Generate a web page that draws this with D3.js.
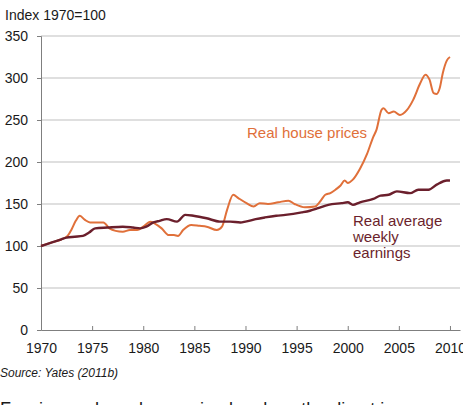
<!DOCTYPE html>
<html>
<head>
<meta charset="utf-8">
<script src="https://cdn.jsdelivr.net/npm/d3@7"></script>
<style>
  body { margin: 0; background: #fff; }
  svg { display: block; font-family: 'Liberation Sans', Arial, sans-serif; }
</style>
</head>
<body>
<svg id="chart" width="463" height="405"></svg>
<script>
// real house prices, index 1970=100
const houseYears = [1970.0, 1971.0, 1972.0, 1972.6, 1973.0, 1973.4, 1973.8, 1974.3, 1974.8, 1975.5,
  1976.1, 1976.7, 1977.3, 1978.0, 1978.7, 1979.4, 1980.0, 1980.7, 1981.1, 1981.8,
  1982.5, 1983.0, 1983.4, 1983.9, 1984.7, 1985.5, 1986.2, 1987.2, 1987.7, 1988.2,
  1988.8, 1989.3, 1990.1, 1990.8, 1991.4, 1992.2, 1993.2, 1994.2, 1994.8, 1995.8,
  1996.8, 1997.3, 1997.8, 1998.3, 1998.8, 1999.3, 1999.7, 2000.0, 2000.5, 2001.2,
  2001.9, 2002.5, 2002.8, 2003.3, 2003.5, 2004.0, 2004.5, 2005.1, 2005.8, 2006.4,
  2007.1, 2007.6, 2008.0, 2008.4, 2008.7, 2009.0, 2009.3, 2009.7, 2010.0]
const houseValues = [100, 104, 108, 112, 120, 130, 136, 131, 128, 128,
  128, 121, 118, 117, 119, 119, 123, 129, 127, 121,
  113, 113, 112, 119, 125, 124, 123, 119, 123, 143,
  161, 157, 151, 147, 151, 150, 152, 154, 150, 146,
  147, 153, 161, 163, 167, 172, 178, 175, 179, 192,
  210, 230, 238, 262, 264, 258, 260, 256, 262, 274,
  294, 304, 298, 282, 281, 288, 306, 321, 325]

// real average weekly earnings
const earnYears = [1970.0, 1971.0, 1972.0, 1972.5, 1973.3, 1974.1, 1974.7, 1975.3, 1976.5, 1978.0,
  1979.0, 1979.7, 1980.3, 1981.0, 1981.6, 1982.3, 1983.3, 1984.1, 1984.9, 1986.2,
  1987.5, 1988.5, 1989.5, 1990.0, 1991.0, 1991.9, 1993.0, 1993.9, 1995.5, 1996.3,
  1997.1, 1998.1, 1999.4, 2000.0, 2000.5, 2001.2, 2002.5, 2003.2, 2004.0, 2004.8,
  2006.1, 2006.9, 2007.9, 2008.7, 2009.7, 2010.0]
const earnValues = [100, 104, 108, 110, 111, 112, 116, 121, 122, 123,
  122, 121, 123, 128, 130, 132, 129, 137, 136, 133,
  129, 129, 128, 129, 132, 134, 136, 137, 140, 142,
  145, 149, 151, 152, 149, 152, 156, 160, 161, 165,
  163, 167, 167, 173, 178, 178]

const xTicks = [1970, 1975, 1980, 1985, 1990, 1995, 2000, 2005, 2010]
const yTicks = [0, 50, 100, 150, 200, 250, 300, 350]

const houseColor = '#e0703a'
const earnColor = '#6b1f2c'
const textColor = '#1a1a1a'

const plot = {
  'left': 41,
  'right': 460,
  'top': 36,
  'bottom': 330
}

const svg = d3.select('#chart')

const xScale = d3.scaleLinear()
  .domain([1970, 2010.98])
  .range([plot.left, plot.right])
const yScale = d3.scaleLinear()
  .domain([0, 350])
  .range([plot.bottom, plot.top])

// gridlines
svg.append('g')
  .selectAll('line')
  .data(yTicks.filter(v => v > 0))
  .enter()
  .append('line')
  .attr('x1', plot.left)
  .attr('x2', plot.right)
  .attr('y1', d => yScale(d))
  .attr('y2', d => yScale(d))
  .style('stroke', '#bfbfbf')
  .style('stroke-width', 1)

// y axis
let yAxis = svg.append('g')
  .attr('transform', `translate(${plot.left},0)`)
  .call(d3.axisLeft(yScale).tickValues(yTicks).tickSize(4).tickPadding(9))
yAxis.select('.domain').style('stroke', '#7f7f7f')
yAxis.selectAll('.tick line').style('stroke', '#7f7f7f')
yAxis.selectAll('text')
  .style('font-size', '14px')
  .style('fill', textColor)
  .style('font-family', "'Liberation Sans', Arial, sans-serif")

// x axis (ticks point inward)
let xAxis = svg.append('g')
  .attr('transform', `translate(0,${plot.bottom})`)
  .call(d3.axisBottom(xScale).tickValues(xTicks).tickFormat(d3.format('d')).tickSizeInner(-4).tickSizeOuter(0).tickPadding(13))
xAxis.select('.domain').style('stroke', '#7f7f7f')
xAxis.selectAll('.tick line').style('stroke', '#7f7f7f')
xAxis.selectAll('text')
  .style('font-size', '14px')
  .style('fill', textColor)
  .style('font-family', "'Liberation Sans', Arial, sans-serif")

const line = d3.line()
  .curve(d3.curveMonotoneX)
  .x(d => xScale(d.x))
  .y(d => yScale(d.y))

const house = houseYears.map((v, i) => ({x: v, y: houseValues[i]}))
const earn = earnYears.map((v, i) => ({x: v, y: earnValues[i]}))

svg.append('path')
  .datum(house)
  .style('fill', 'none')
  .style('stroke', houseColor)
  .style('stroke-width', 2)
  .style('stroke-linejoin', 'round')
  .attr('d', line)

svg.append('path')
  .datum(earn)
  .style('fill', 'none')
  .style('stroke', earnColor)
  .style('stroke-width', 2.4)
  .style('stroke-linejoin', 'round')
  .attr('d', line)

// titles and labels
svg.append('text')
  .attr('x', 5)
  .attr('y', 20)
  .style('font-size', '14px')
  .style('fill', textColor)
  .text('Index 1970=100')

svg.append('text')
  .attr('x', 247)
  .attr('y', 138)
  .style('font-size', '15px')
  .style('fill', houseColor)
  .text('Real house prices')

let earnLabel = svg.append('text')
  .attr('x', 353)
  .attr('y', 226)
  .style('font-size', '15px')
  .style('fill', earnColor)
;['Real average', 'weekly', 'earnings'].forEach((t, i) => {
  earnLabel.append('tspan')
    .attr('x', 353)
    .attr('dy', i === 0 ? 0 : 16)
    .text(t)
})

svg.append('text')
  .attr('x', 0)
  .attr('y', 377)
  .style('font-size', '12px')
  .style('font-style', 'italic')
  .style('fill', textColor)
  .text('Source: Yates (2011b)')

// running text below, cut off by the frame
svg.append('text')
  .attr('x', 0)
  .attr('y', 414.5)
  .style('font-size', '18px')
  .style('fill', textColor)
  .text('Few issues have been raised on how the direct i')
</script>
</body>
</html>
